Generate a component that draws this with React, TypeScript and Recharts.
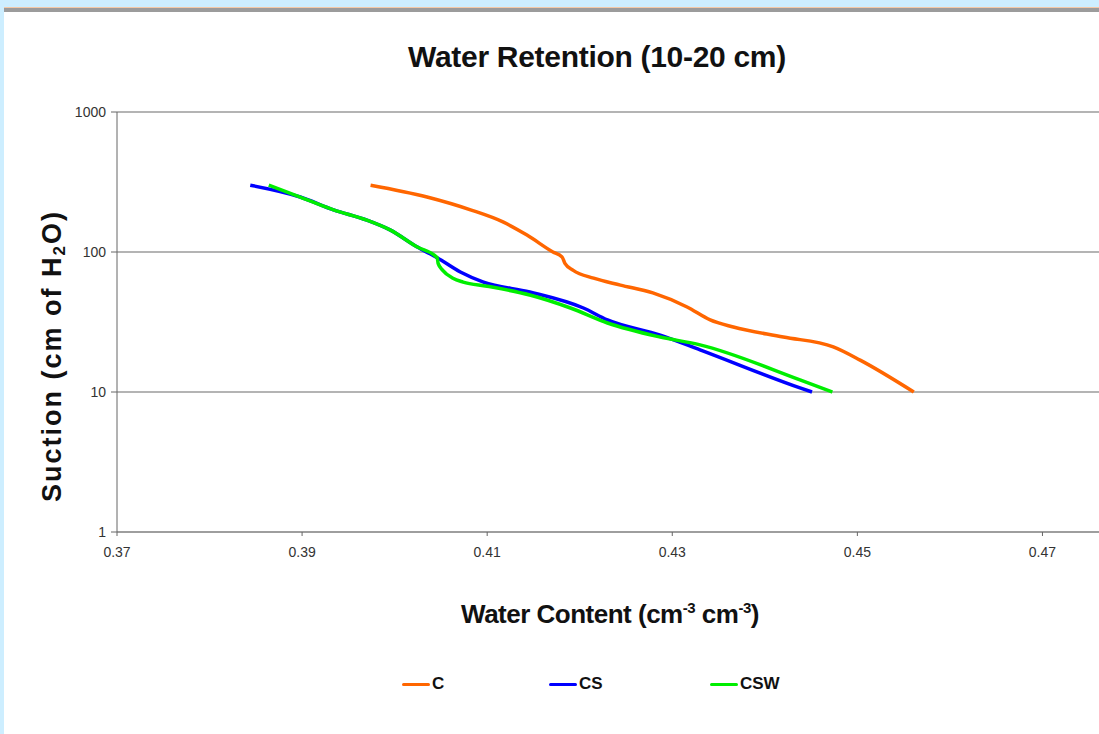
import { LineChart, Line, XAxis, YAxis, CartesianGrid } from "recharts";

// water content (cm3/cm3) vs suction (cm H2O)
const cWater = [0.3974, 0.4035, 0.4082, 0.4117, 0.4143, 0.4171, 0.4181, 0.4184, 0.4193, 0.4215, 0.4244, 0.4279, 0.4316, 0.4341, 0.4366, 0.442, 0.4474, 0.4503, 0.4561];
const cSuction = [300, 247, 200, 164, 132, 100, 92, 83, 74, 65, 58, 51, 40.5, 32.7, 29.1, 24.7, 21, 16.9, 10];

const csWater = [0.3844, 0.3898, 0.3934, 0.397, 0.3995, 0.4024, 0.4046, 0.4071, 0.4096, 0.4146, 0.4204, 0.423, 0.4287, 0.433, 0.4438, 0.4451];
const csSuction = [300, 247, 200, 169, 144, 109, 91, 72, 61, 51.8, 39.8, 32.7, 25.5, 20, 10.7, 10];

const cswWater = [0.3864, 0.3898, 0.3934, 0.397, 0.3995, 0.4024, 0.4046, 0.4047, 0.4052, 0.4063, 0.4074, 0.41, 0.4146, 0.419, 0.423, 0.4287, 0.433, 0.4438, 0.4473];
const cswSuction = [300, 247, 200, 169, 144, 109, 91, 83, 74, 65, 61, 57, 49.3, 39.8, 31.1, 24.7, 21.7, 12.2, 10];

const xTicks = [0.37, 0.39, 0.41, 0.43, 0.45, 0.47];
const yTicks = [1, 10, 100, 1000];

const toPoints = (xs: number[], ys: number[]) => xs.map((x, i) => ({ x, y: ys[i] }));

const series = [
  { name: "C", color: "#ff6600", data: toPoints(cWater, cSuction) },
  { name: "CS", color: "#0000ff", data: toPoints(csWater, csSuction) },
  { name: "CSW", color: "#00ee00", data: toPoints(cswWater, cswSuction) },
];

const FONT = "'Liberation Sans', Arial, sans-serif";

const legendX = [402, 549, 710];

const LegendRow = () => (
  <div style={{ position: "absolute", left: 0, top: 674, width: 1099, height: 24 }}>
    {series.map((s, i) => (
      <div
        key={s.name}
        style={{ position: "absolute", left: legendX[i], top: 0, display: "flex", alignItems: "center" }}
      >
        <div style={{ width: 28, height: 3, background: s.color, borderRadius: 2 }} />
        <span style={{ fontFamily: FONT, fontWeight: 700, fontSize: 17, color: "#111", marginLeft: 2 }}>
          {s.name}
        </span>
      </div>
    ))}
  </div>
);

const YTitle = () => {
  const cx = 52;
  const cy = 356;
  return (
    <text
      x={cx}
      y={cy}
      transform={`rotate(-90 ${cx} ${cy})`}
      textAnchor="middle"
      dominantBaseline="central"
      style={{ fontFamily: FONT, fontWeight: 700, fontSize: 27, letterSpacing: 2, fill: "#111" }}
    >
      Suction (cm of H
      <tspan fontSize={17} dy={7}>2</tspan>
      <tspan dy={-7}>O)</tspan>
    </text>
  );
};

const XTitle = () => (
  <text
    x={610}
    y={623}
    textAnchor="middle"
    style={{ fontFamily: FONT, fontWeight: 700, fontSize: 26, letterSpacing: -0.5, fill: "#111" }}
  >
    Water Content (cm
    <tspan fontSize={15} dy={-10}>-3</tspan>
    <tspan dy={10}> cm</tspan>
    <tspan fontSize={15} dy={-10}>-3</tspan>
    <tspan dy={10}>)</tspan>
  </text>
);

export default function App() {
  return (
    <div
      style={{
        position: "fixed",
        left: 0,
        top: 0,
        width: 1099,
        height: 734,
        overflow: "hidden",
        background: "#cdeeff",
      }}
    >
      <div
        style={{
          position: "absolute",
          left: 4,
          top: 8,
          width: 1095,
          height: 726,
          background: "#fff",
          borderTop: "4px solid #9c9c9c",
          boxShadow: "0 -1px 0 #f4c9a8",
        }}
      />
      <div
        style={{
          position: "absolute",
          left: 0,
          top: 40,
          width: 1099,
          textAlign: "center",
          fontFamily: FONT,
          fontWeight: 700,
          fontSize: 30,
          letterSpacing: -0.3,
          color: "#111",
          paddingLeft: 95,
          boxSizing: "border-box",
        }}
      >
        Water Retention (10-20 cm)
      </div>
      <div style={{ position: "absolute", left: 0, top: 0 }}>
        <LineChart
          width={1160}
          height={734}
          margin={{ top: 112, right: 25, left: 0, bottom: 172 }}
        >
          <CartesianGrid vertical={false} stroke="#b4b4b4" strokeWidth={2} />
          <XAxis
            type="number"
            dataKey="x"
            domain={[0.37, 0.48]}
            ticks={xTicks}
            allowDataOverflow
            height={30}
            stroke="#888"
            tickLine={{ stroke: "#666" }}
            tickSize={4}
            tickMargin={11}
            tickFormatter={(v: number) => v.toFixed(2)}
            tick={{ fontFamily: FONT, fontSize: 14, fill: "#333" }}
            label={<XTitle />}
          />
          <YAxis
            type="number"
            dataKey="y"
            scale="log"
            domain={[1, 1000]}
            ticks={yTicks}
            allowDataOverflow
            width={117}
            stroke="#666"
            tickSize={6}
            tickMargin={5}
            tick={{ fontFamily: FONT, fontSize: 14, fill: "#333" }}
            label={<YTitle />}
          />
          {series.map((s) => (
            <Line
              key={s.name}
              data={s.data}
              dataKey="y"
              name={s.name}
              type="monotone"
              stroke={s.color}
              strokeWidth={3.5}
              dot={false}
              isAnimationActive={false}
            />
          ))}
        </LineChart>
      </div>
      <LegendRow />
    </div>
  );
}
